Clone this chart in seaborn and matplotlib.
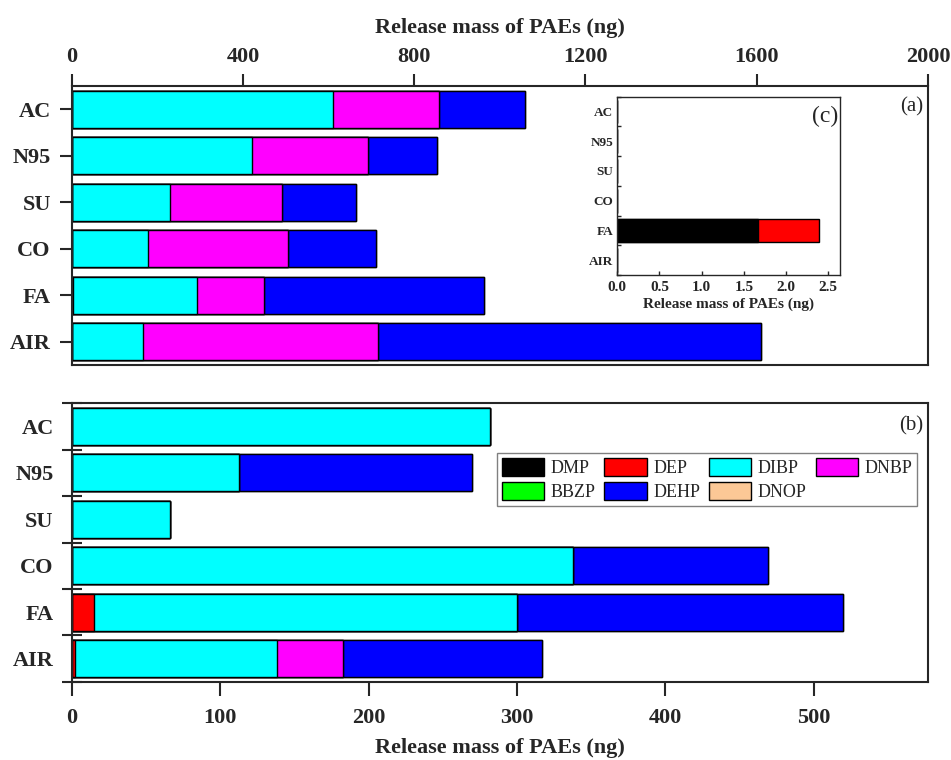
import numpy as np
import pandas as pd
import matplotlib
matplotlib.use("Agg")
import matplotlib.pyplot as plt
from matplotlib.patches import Patch
import seaborn as sns

# 样品与化合物
samples = ["AC", "N95", "SU", "CO", "FA", "AIR"]
compounds = ["DMP", "DEP", "DIBP", "DNBP", "BBZP", "DEHP", "DNOP"]

# (a) 上图数据 (ng)
a_dmp = [0, 0, 0, 0, 1.67, 0]
a_dep = [0, 0, 0, 0, 0.72, 0]
a_dibp = [610, 420, 230, 179, 290, 167]
a_dnbp = [248, 272, 261, 327, 156, 549]
a_bbzp = [0, 0, 0, 0, 0, 0]
a_dehp = [200, 162, 173, 204, 514, 894]
a_dnop = [0, 0, 0, 0, 0, 0]

# (b) 下图数据 (ng)
b_dmp = [0, 0, 0, 0, 0, 0]
b_dep = [0, 0, 0, 0, 15, 2]
b_dibp = [282, 113, 66, 338, 285, 136]
b_dnbp = [0, 0, 0, 0, 0, 45]
b_bbzp = [0, 0, 0, 0, 0, 0]
b_dehp = [0, 157, 0, 131, 220, 134]
b_dnop = [0, 0, 0, 0, 0, 0]

colors = {
    "DMP": "#000000", "DEP": "#ff0000", "DIBP": "#00ffff", "DNBP": "#ff00ff",
    "BBZP": "#00ff00", "DEHP": "#0000ff", "DNOP": "#fcc896",
}

data_a = dict(zip(compounds, [a_dmp, a_dep, a_dibp, a_dnbp, a_bbzp, a_dehp, a_dnop]))
data_b = dict(zip(compounds, [b_dmp, b_dep, b_dibp, b_dnbp, b_bbzp, b_dehp, b_dnop]))

sns.set_theme(style="ticks")
plt.rcParams["font.family"] = ["Liberation Serif", "DejaVu Serif"]
plt.rcParams["axes.linewidth"] = 1.5


def stacked(ax, data, comps):
    # 累积值从大到小叠画, 短的盖在长的上面
    df = pd.DataFrame(data, index=samples)[comps]
    cum = df.cumsum(axis=1)
    for c in reversed(comps):
        sns.barplot(x=cum[c].values, y=samples, orient="h", color=colors[c],
                    saturation=1, edgecolor="black", linewidth=1.0, width=0.8, ax=ax)
    ax.set_ylim(5.5, -0.5)


fig = plt.figure(figsize=(9.51, 7.6), dpi=100)
ax_a = fig.add_axes([0.0754, 0.5197, 0.9004, 0.3671])
ax_b = fig.add_axes([0.0754, 0.1030, 0.9004, 0.3663])
ax_c = fig.add_axes([0.6491, 0.6382, 0.2342, 0.2346])

bold = dict(fontsize=16, fontweight="bold")

# ---- (a)
stacked(ax_a, data_a, compounds)
ax_a.set_xlim(0, 2000)
ax_a.set_xticks([0, 400, 800, 1200, 1600, 2000])
ax_a.xaxis.tick_top()
ax_a.xaxis.set_label_position("top")
ax_a.set_xlabel("Release mass of PAEs (ng)", labelpad=10, **bold)
ax_a.set_ylabel("")
ax_a.tick_params(axis="x", direction="out", length=9, width=1.5, pad=5, labelsize=16)
ax_a.tick_params(axis="y", direction="out", length=9, width=1.5, pad=6, labelsize=16)
for t in ax_a.get_xticklabels() + ax_a.get_yticklabels():
    t.set_fontweight("bold")
ax_a.text(0.995, 0.96, "(a)", transform=ax_a.transAxes, ha="right", va="top", fontsize=15)

# ---- (b)
stacked(ax_b, data_b, compounds)
ax_b.set_xlim(0, 577)
ax_b.set_xticks([0, 100, 200, 300, 400, 500])
ax_b.set_xlabel("Release mass of PAEs (ng)", labelpad=7, **bold)
ax_b.set_ylabel("")
ax_b.set_yticks(np.arange(6))
ax_b.set_yticklabels(samples)
ax_b.set_yticks(np.arange(-0.5, 6, 1), minor=True)
ax_b.tick_params(axis="y", which="major", length=0, pad=13, labelsize=16)
ax_b.tick_params(axis="y", which="minor", direction="inout", length=14, width=1.5)
ax_b.tick_params(axis="x", direction="out", length=10, width=1.5, pad=9, labelsize=16)
for t in ax_b.get_xticklabels() + ax_b.get_yticklabels():
    t.set_fontweight("bold")
ax_b.text(0.995, 0.955, "(b)", transform=ax_b.transAxes, ha="right", va="top", fontsize=15)

# 图例按行排列: matplotlib 按列填充, 所以先调整顺序
leg_order = ["DMP", "BBZP", "DEP", "DEHP", "DIBP", "DNOP", "DNBP"]
handles = [Patch(facecolor=colors[c], edgecolor="black", linewidth=1.0) for c in leg_order]
ax_b.legend(handles, leg_order, loc="upper right", bbox_to_anchor=(0.987, 0.821),
            borderaxespad=0, ncol=4, fontsize=13, frameon=True, fancybox=False,
            edgecolor="gray", framealpha=1, handlelength=2.35, handleheight=1.15,
            handletextpad=0.35, columnspacing=0.5, labelspacing=0.3, borderpad=0.25)

# ---- (c) 插图
stacked(ax_c, data_a, ["DMP", "DEP"])
ax_c.set_xlim(0, 2.64)
ax_c.set_xticks([0, 0.5, 1.0, 1.5, 2.0, 2.5])
ax_c.set_xticklabels([f"{v:.1f}" for v in [0, 0.5, 1.0, 1.5, 2.0, 2.5]])
ax_c.set_xlabel("Release mass of PAEs (ng)", fontsize=11, fontweight="bold", labelpad=3)
ax_c.set_ylabel("")
ax_c.set_yticks(np.arange(6))
ax_c.set_yticklabels(samples)
ax_c.set_yticks(np.arange(-0.5, 6, 1), minor=True)
ax_c.tick_params(axis="y", which="major", length=0, pad=3, labelsize=9.5)
ax_c.tick_params(axis="y", which="minor", direction="in", length=3, width=1.0)
ax_c.tick_params(axis="x", direction="in", length=3, width=1.0, pad=4, labelsize=11)
for t in ax_c.get_xticklabels() + ax_c.get_yticklabels():
    t.set_fontweight("bold")
for s in ax_c.spines.values():
    s.set_linewidth(1.0)
ax_c.text(0.99, 0.95, "(c)", transform=ax_c.transAxes, ha="right", va="top", fontsize=17)

fig.savefig("out.png", dpi=100)
